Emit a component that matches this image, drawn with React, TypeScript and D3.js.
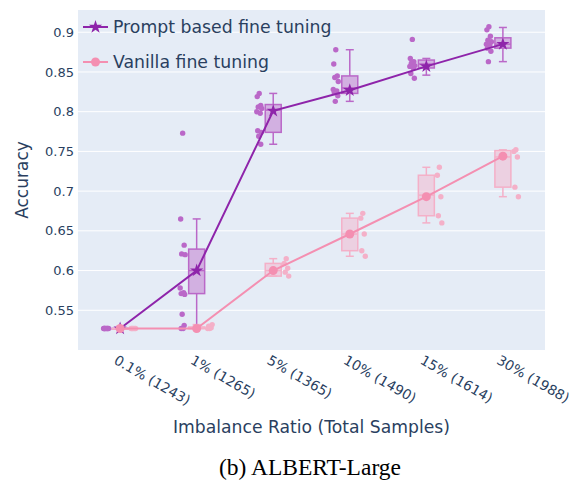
import React from 'react'
import * as d3 from 'd3'

const categories = ['0.1% (1243)', '1% (1265)', '5% (1365)', '10% (1490)', '15% (1614)', '30% (1988)']
const yTicks = [0.55, 0.6, 0.65, 0.7, 0.75, 0.8, 0.85, 0.9]

// prompt based fine tuning: per-seed accuracy, box stats and mean line
const promptRuns = [
  [0.527, 0.527, 0.527, 0.527, 0.527, 0.527, 0.527, 0.527],
  [0.773, 0.665, 0.632, 0.621, 0.62, 0.578, 0.572, 0.571, 0.57, 0.545, 0.531, 0.527, 0.527],
  [0.823, 0.819, 0.808, 0.806, 0.804, 0.8, 0.798, 0.776, 0.774, 0.769, 0.759],
  [0.878, 0.86, 0.845, 0.843, 0.838, 0.828, 0.826, 0.824, 0.82, 0.813],
  [0.891, 0.867, 0.863, 0.861, 0.858, 0.857, 0.855, 0.848, 0.842],
  [0.907, 0.903, 0.895, 0.89, 0.888, 0.885, 0.884, 0.88, 0.876, 0.863],
]
const promptLo = [0.527, 0.527, 0.759, 0.813, 0.846, 0.863]
const promptQ1 = [0.527, 0.571, 0.774, 0.823, 0.855, 0.88]
const promptMed = [0.527, 0.6, 0.802, 0.83, 0.86, 0.885]
const promptQ3 = [0.527, 0.627, 0.809, 0.845, 0.865, 0.893]
const promptHi = [0.527, 0.665, 0.823, 0.878, 0.867, 0.906]
const promptMean = [0.527, 0.6, 0.801, 0.827, 0.857, 0.885]

// vanilla fine tuning
const vanillaRuns = [
  [0.527, 0.527, 0.527, 0.527, 0.527],
  [0.527, 0.527, 0.528, 0.53, 0.532],
  [0.615, 0.609, 0.603, 0.598, 0.593],
  [0.672, 0.666, 0.646, 0.625, 0.618],
  [0.73, 0.72, 0.693, 0.669, 0.66],
  [0.752, 0.75, 0.743, 0.705, 0.693],
]
const vanillaLo = [0.527, 0.527, 0.593, 0.618, 0.66, 0.693]
const vanillaQ1 = [0.527, 0.527, 0.593, 0.625, 0.669, 0.705]
const vanillaMed = [0.527, 0.527, 0.6, 0.646, 0.695, 0.743]
const vanillaQ3 = [0.527, 0.529, 0.609, 0.666, 0.72, 0.751]
const vanillaHi = [0.527, 0.532, 0.615, 0.672, 0.73, 0.752]
const vanillaMean = [0.527, 0.527, 0.6, 0.646, 0.693, 0.744]

const jitter = [0, -2, 1.5, -1, 2.5, -2.5, 1, -1.5, 2, -0.5, 1.5, -1.5, 0.5]

const W = 573
const H = 486
const left = 78, right = 545, top = 10, bottom = 350
const font = 'DejaVu Sans, sans-serif'
const textColor = '#2a3f5f'

const series = [
  {
    name: 'Prompt based fine tuning', runs: promptRuns, lo: promptLo, q1: promptQ1, med: promptMed,
    q3: promptQ3, hi: promptHi, mean: promptMean, line: '#8e24aa', box: '#ba68c8', side: -14, star: true,
  },
  {
    name: 'Vanilla fine tuning', runs: vanillaRuns, lo: vanillaLo, q1: vanillaQ1, med: vanillaMed,
    q3: vanillaQ3, hi: vanillaHi, mean: vanillaMean, line: '#f48fb1', box: '#f4b0c8', side: 13, star: false,
  },
]

export default function App() {
  const x = d3.scalePoint<string>().domain(categories).range([left, right]).padding(0.55)
  const y = d3.scaleLinear().domain([0.5, 0.928]).range([bottom, top])
  const line = d3.line<number>().x((d, i) => x(categories[i])!).y(d => y(d))
  const star = d3.symbol().type(d3.symbolStar).size(55)()!
  const bw = 8

  return (
    <div style={{ position: 'absolute', left: 0, top: 0 }}>
      <svg width={W} height={H} style={{ display: 'block', background: '#fff' }}>
        <rect x={left} y={top} width={right - left} height={bottom - top} fill='#e5ecf6' />
        {yTicks.map(t => (
          <g key={t}>
            <line x1={left} x2={right} y1={y(t)} y2={y(t)} stroke='#fff' strokeWidth={1} />
            <text x={left - 4} y={y(t)} dy='0.35em' textAnchor='end' fontFamily={font} fontSize={13} fill={textColor}>{t}</text>
          </g>
        ))}

        {/* boxes with points */}
        {series.map(s => (
          <g key={s.name + 'box'}>
            {categories.map((c, i) => {
              const cx = x(c)!
              return (
                <g key={c}>
                  <line x1={cx} x2={cx} y1={y(s.lo[i])} y2={y(s.q1[i])} stroke={s.box} strokeWidth={1.5} />
                  <line x1={cx} x2={cx} y1={y(s.q3[i])} y2={y(s.hi[i])} stroke={s.box} strokeWidth={1.5} />
                  <line x1={cx - bw / 2} x2={cx + bw / 2} y1={y(s.lo[i])} y2={y(s.lo[i])} stroke={s.box} strokeWidth={1.5} />
                  <line x1={cx - bw / 2} x2={cx + bw / 2} y1={y(s.hi[i])} y2={y(s.hi[i])} stroke={s.box} strokeWidth={1.5} />
                  <rect x={cx - bw} y={y(s.q3[i])} width={bw * 2} height={Math.max(y(s.q1[i]) - y(s.q3[i]), 0.5)}
                    fill={s.box} fillOpacity={0.45} stroke={s.box} strokeWidth={1.5} />
                  <line x1={cx - bw} x2={cx + bw} y1={y(s.med[i])} y2={y(s.med[i])} stroke={s.box} strokeWidth={1.5} />
                  {s.runs[i].map((v, j) => (
                    <circle key={j} cx={cx + s.side + jitter[j % jitter.length]} cy={y(v)} r={2.7} fill={s.box} />
                  ))}
                </g>
              )
            })}
          </g>
        ))}

        {/* mean lines */}
        {series.map(s => (
          <g key={s.name + 'line'}>
            <path d={line(s.mean)!} fill='none' stroke={s.line} strokeWidth={2} />
            {s.mean.map((v, i) => s.star
              ? <path key={i} d={star} transform={`translate(${x(categories[i])},${y(v)})`} fill={s.line} />
              : <circle key={i} cx={x(categories[i])} cy={y(v)} r={4.5} fill={s.line} />)}
          </g>
        ))}

        {/* legend */}
        {series.map((s, i) => {
          const ly = 27 + i * 35
          return (
            <g key={s.name + 'leg'}>
              <line x1={83} x2={108} y1={ly} y2={ly} stroke={s.line} strokeWidth={2} />
              {s.star
                ? <path d={star} transform={`translate(95.5,${ly})`} fill={s.line} />
                : <circle cx={95.5} cy={ly} r={4.5} fill={s.line} />}
              <text x={113} y={ly} dy='0.35em' fontFamily={font} fontSize={17.3} fill={textColor}>{s.name}</text>
            </g>
          )
        })}

        {/* x tick labels */}
        {categories.map(c => (
          <text key={c} transform={`translate(${x(c)! - 2},${bottom + 4}) rotate(30)`} dy='0.75em'
            fontFamily={font} fontSize={13.8} fill={textColor}>{c}</text>
        ))}

        <text x={(left + right) / 2} y={433} textAnchor='middle' fontFamily={font} fontSize={17.2} fill={textColor}>
          Imbalance Ratio (Total Samples)
        </text>
        <text transform={`translate(28,${(top + bottom) / 2}) rotate(-90)`} textAnchor='middle'
          fontFamily={font} fontSize={17} fill={textColor}>Accuracy</text>

        <text x={310} y={475} textAnchor='middle' fontFamily='Liberation Serif, Times New Roman, serif' fontSize={23.5} fill='#000'>
          (b) ALBERT-Large
        </text>
      </svg>
    </div>
  )
}
